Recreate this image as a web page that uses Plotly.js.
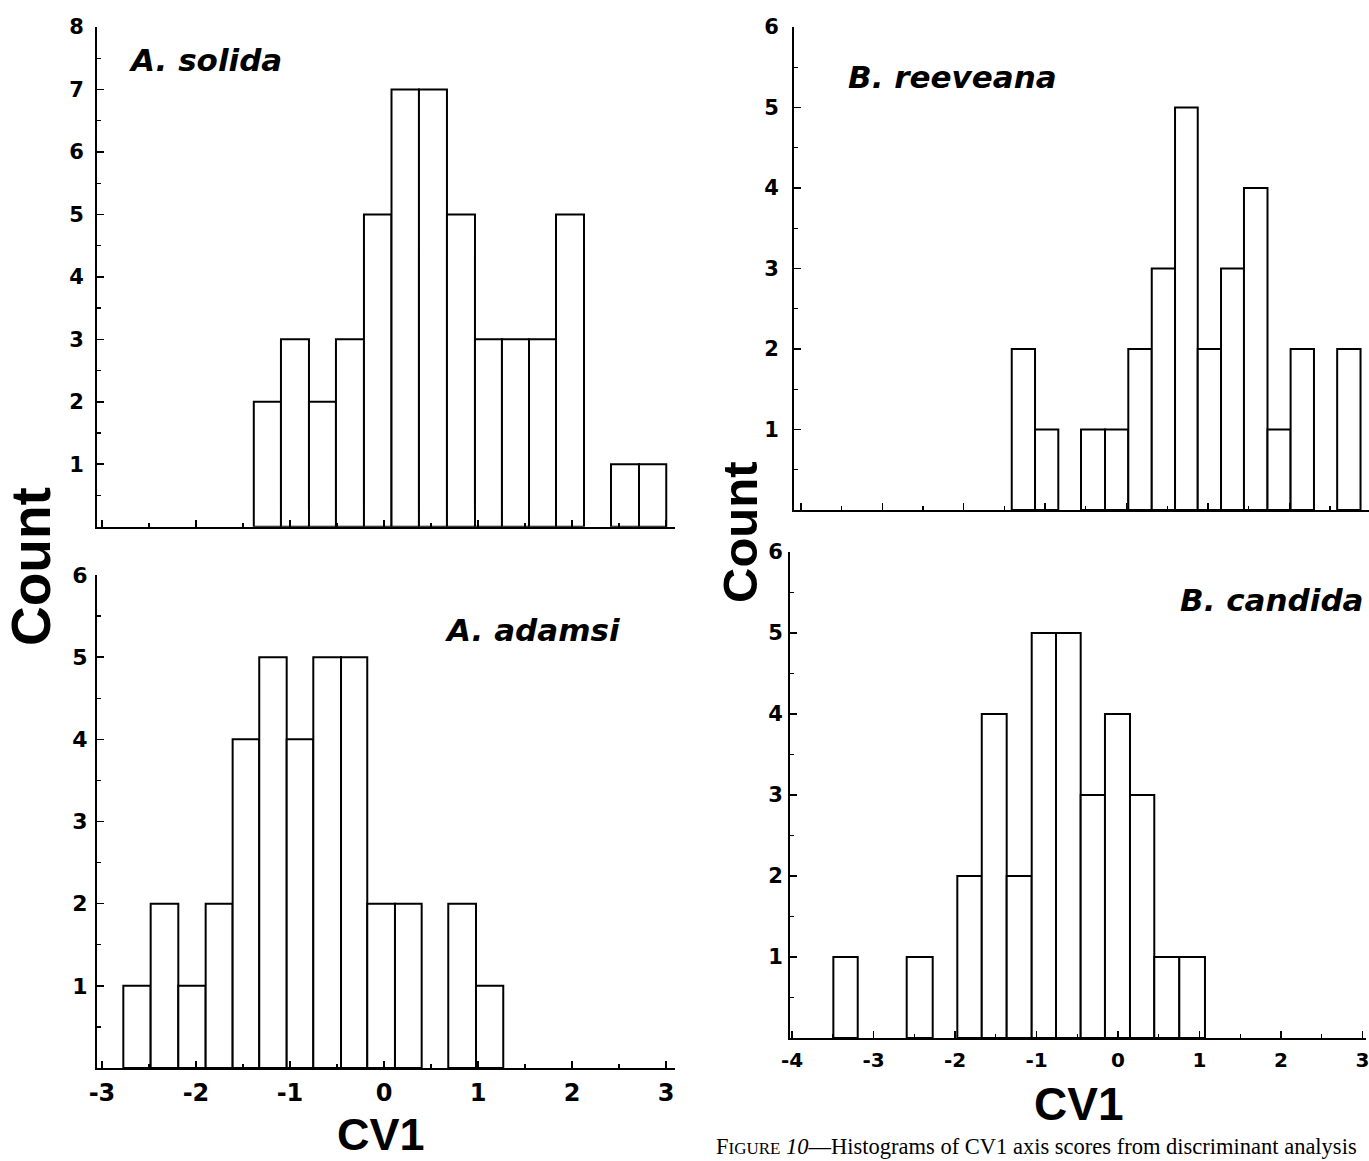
<!DOCTYPE html>
<html><head><meta charset="utf-8">
<script src="https://cdn.plot.ly/plotly-3.0.1.min.js"></script>
<style>html,body{margin:0;padding:0;background:#fff}#chart{width:1369px;height:1161px}</style>
</head><body><div id="chart"></div>
<script>
// ---- data (bin edges on CV1 axis, counts per bin) ----
const solidaEdges  = [-1.385,-1.096,-0.798,-0.511,-0.213,0.080,0.372,0.670,0.968,1.255,1.543,1.830,2.128,2.415,2.713,3.003];
const solidaCounts = [2,3,2,3,5,7,7,5,3,3,3,5,0,1,1];

const adamsiEdges  = [-2.773,-2.482,-2.188,-1.897,-1.610,-1.327,-1.035,-0.752,-0.457,-0.178,0.117,0.401,0.684,0.979,1.269];
const adamsiCounts = [1,2,1,2,4,5,4,5,5,2,2,0,2,1];

const reeveanaEdges  = [-1.410,-1.124,-0.838,-0.559,-0.264,0.022,0.310,0.596,0.875,1.161,1.443,1.732,2.016,2.303,2.588,2.875];
const reeveanaCounts = [2,1,0,1,1,2,3,5,2,3,4,1,2,0,2];

const candidaEdges  = [-3.493,-3.194,-2.890,-2.593,-2.274,-1.972,-1.672,-1.366,-1.059,-0.761,-0.458,-0.160,0.147,0.445,0.752,1.067];
const candidaCounts = [1,0,0,1,0,2,4,2,5,5,3,4,3,1,1];

const leftXTickVals  = [-3,-2,-1,0,1,2,3];
const leftXTickText  = ['-3','-2','-1','0','1','2','3'];
const rightXTickVals = [-4,-3,-2,-1,0,1,2,3];
const rightXTickText = ['-4','-3','-2','-1','0','1','2','3'];
const yTicks8 = [1,2,3,4,5,6,7,8];
const yTicks6 = [1,2,3,4,5,6];

const speciesNames = ['A. solida','A. adamsi','B. reeveana','B. candida'];
const yTitle = 'Count';
const xTitle = 'CV1';
const caption = 'F<span style="font-size:17px">IGURE</span> <i>10</i>—Histograms of CV1 axis scores from discriminant analysis';

// ---- helpers ----
const W = 1369, H = 1161;
const px = x => x / W;
const py = y => 1 - y / H;

function barTrace(edges, counts, xa, ya) {
  const x = [], y = [], w = [];
  for (let i = 0; i < counts.length; i++) {
    if (counts[i] > 0) {
      x.push((edges[i] + edges[i + 1]) / 2);
      y.push(counts[i]);
      w.push(edges[i + 1] - edges[i]);
    }
  }
  return {type:'bar', x:x, y:y, width:w, xaxis:xa, yaxis:ya,
    marker:{color:'#ffffff', line:{color:'#000000', width:2}},
    showlegend:false, hoverinfo:'x+y'};
}

function tf(size) { return {family:'DejaVu Sans, Liberation Sans, sans-serif', size:size, color:'#000', weight:'bold'}; }
function axis(extra) {
  return Object.assign({
    showline:true, linecolor:'#000', linewidth:2,
    ticks:'inside', ticklen:7, tickwidth:1.5, tickcolor:'#000',
    showgrid:false, zeroline:false, fixedrange:true,
    tickfont:tf(22), tickmode:'array', ticklabeloverflow:'allow',
    minor:{tick0:0, dtick:0.5, ticks:'inside', ticklen:4, tickwidth:1.2, tickcolor:'#000', showgrid:false}
  }, extra);
}

const traces = [
  barTrace(solidaEdges, solidaCounts, 'x', 'y'),
  barTrace(adamsiEdges, adamsiCounts, 'x2', 'y2'),
  barTrace(reeveanaEdges, reeveanaCounts, 'x3', 'y3'),
  barTrace(candidaEdges, candidaCounts, 'x4', 'y4')
];

const titleFont = {family:'Liberation Sans, Arial, sans-serif', color:'#000', weight:'bold'};
const speciesFont = {family:'DejaVu Sans, sans-serif', size:31, color:'#000', weight:'bold', style:'italic'};

function ann(text, x, y, font, extra) {
  return Object.assign({text:text, xref:'paper', yref:'paper', x:px(x), y:py(y),
    xanchor:'center', yanchor:'middle', showarrow:false, font:font}, extra || {});
}

const layout = {
  width:W, height:H, paper_bgcolor:'#fff', plot_bgcolor:'rgba(0,0,0,0)',
  margin:{l:0, r:0, t:0, b:0}, showlegend:false, barmode:'overlay',
  xaxis:  axis({domain:[px(97), px(675)], range:[-3.053, 3.096], anchor:'y',
                tickvals:leftXTickVals, ticktext:leftXTickText, showticklabels:false}),
  yaxis:  axis({domain:[py(526.7), py(27)], range:[0, 8], anchor:'x',
                tickvals:yTicks8, ticktext:yTicks8.map(String), ticklabelstandoff:7, tickfont:tf(21)}),
  xaxis2: axis({domain:[px(97), px(675)], range:[-3.053, 3.096], anchor:'y2',
                tickvals:leftXTickVals, ticktext:leftXTickText, ticklabelstandoff:2, tickfont:tf(24)}),
  yaxis2: axis({domain:[py(1068), py(575)], range:[0, 6], anchor:'x2',
                tickvals:yTicks6, ticktext:yTicks6.map(String), ticklabelstandoff:3, tickfont:tf(22)}),
  xaxis3: axis({domain:[px(794), 1], range:[-4.085, 2.979], anchor:'y3',
                tickvals:rightXTickVals, ticktext:rightXTickText, showticklabels:false}),
  yaxis3: axis({domain:[py(510), py(27)], range:[0, 6], anchor:'x3',
                tickvals:yTicks6, ticktext:yTicks6.map(String), ticklabelstandoff:9, tickfont:tf(21)}),
  xaxis4: axis({domain:[px(790), px(1366)], range:[-4.025, 3.043], anchor:'y4',
                tickvals:rightXTickVals, ticktext:rightXTickText, ticklabelstandoff:3, tickfont:tf(20)}),
  yaxis4: axis({domain:[py(1038), py(552)], range:[0, 6], anchor:'x4',
                tickvals:yTicks6, ticktext:yTicks6.map(String), ticklabelstandoff:1, tickfont:tf(21)}),
  annotations: [
    ann(speciesNames[0], 205, 60, speciesFont),
    ann(speciesNames[1], 532, 630, speciesFont),
    ann(speciesNames[2], 952, 77, speciesFont),
    ann(speciesNames[3], 1272, 600, speciesFont),
    ann(yTitle, 31, 567, Object.assign({}, titleFont, {size:55}), {textangle:-90}),
    ann(yTitle, 740, 532, Object.assign({}, titleFont, {size:49}), {textangle:-90}),
    ann(xTitle, 381, 1161, Object.assign({}, titleFont, {size:45}), {yanchor:'bottom', borderpad:0}),
    ann(xTitle, 1078, 1104, Object.assign({}, titleFont, {size:46})),
    ann(caption, 714, 1161, {family:'Liberation Serif, Times New Roman, serif', size:22.5, color:'#000'}, {xanchor:'left', yanchor:'bottom'})
  ]
};

Plotly.newPlot('chart', traces, layout, {staticPlot:true, displayModeBar:false});
</script>
</body></html>
